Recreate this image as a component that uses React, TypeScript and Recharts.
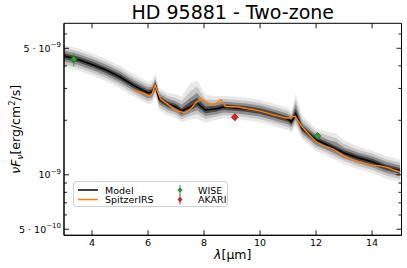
import React from "react";
import {
    Area,
    ComposedChart,
    ErrorBar,
    Line,
    ReferenceArea,
    Scatter,
    XAxis,
    YAxis,
} from "recharts";

// model grid (micron) and median model flux (erg/cm2/s)
const wavelengths = [3.0, 3.5, 4.0, 4.5, 5.0, 5.5, 6.0, 6.15, 6.26, 6.4, 6.7, 7.0, 7.2, 7.5, 7.75, 8.05, 8.4, 8.7, 9.0, 9.5, 10.0, 10.5, 11.0, 11.12, 11.27, 11.5, 12.0, 12.5, 12.7, 13.0, 13.5, 14.0, 14.5, 15.0];
const modelFlux = [4.53e-9, 4.34e-9, 4.07e-9, 3.79e-9, 3.47e-9, 3.11e-9, 2.83e-9, 2.87e-9, 3.13e-9, 2.62e-9, 2.46e-9, 2.37e-9, 2.25e-9, 2.37e-9, 2.49e-9, 2.28e-9, 2.31e-9, 2.37e-9, 2.35e-9, 2.31e-9, 2.25e-9, 2.14e-9, 2.03e-9, 1.96e-9, 2.17e-9, 1.81e-9, 1.56e-9, 1.44e-9, 1.39e-9, 1.32e-9, 1.24e-9, 1.18e-9, 1.10e-9, 1.05e-9];

// half widths of the shaded model bands, in dex (outer -> inner)
const outerUp = [0.062, 0.062, 0.062, 0.062, 0.062, 0.062, 0.062, 0.062, 0.062, 0.062, 0.062, 0.07, 0.08, 0.13, 0.125, 0.085, 0.07, 0.062, 0.062, 0.062, 0.062, 0.062, 0.062, 0.062, 0.11, 0.07, 0.062, 0.075, 0.085, 0.07, 0.062, 0.062, 0.062, 0.062];
const outerDown = [0.062, 0.062, 0.062, 0.062, 0.062, 0.062, 0.062, 0.062, 0.062, 0.062, 0.062, 0.062, 0.062, 0.07, 0.085, 0.07, 0.062, 0.062, 0.062, 0.062, 0.062, 0.062, 0.062, 0.062, 0.07, 0.062, 0.062, 0.062, 0.062, 0.062, 0.062, 0.062, 0.062, 0.062];
const midUp = [0.045, 0.045, 0.045, 0.045, 0.045, 0.045, 0.045, 0.045, 0.045, 0.045, 0.045, 0.05, 0.055, 0.085, 0.09, 0.06, 0.05, 0.045, 0.045, 0.045, 0.045, 0.045, 0.045, 0.045, 0.08, 0.05, 0.045, 0.055, 0.06, 0.05, 0.045, 0.045, 0.045, 0.045];
const midDown = [0.045, 0.045, 0.045, 0.045, 0.045, 0.045, 0.045, 0.045, 0.045, 0.045, 0.045, 0.045, 0.045, 0.05, 0.06, 0.05, 0.045, 0.045, 0.045, 0.045, 0.045, 0.045, 0.045, 0.045, 0.05, 0.045, 0.045, 0.045, 0.045, 0.045, 0.045, 0.045, 0.045, 0.045];
const innerUp = [0.03, 0.03, 0.03, 0.03, 0.03, 0.03, 0.03, 0.03, 0.03, 0.03, 0.03, 0.03, 0.035, 0.05, 0.055, 0.04, 0.03, 0.03, 0.03, 0.03, 0.03, 0.03, 0.03, 0.03, 0.055, 0.03, 0.03, 0.03, 0.04, 0.03, 0.03, 0.03, 0.03, 0.03];
const innerDown = [0.03, 0.03, 0.03, 0.03, 0.03, 0.03, 0.03, 0.03, 0.03, 0.03, 0.03, 0.03, 0.03, 0.033, 0.04, 0.033, 0.03, 0.03, 0.03, 0.03, 0.03, 0.03, 0.03, 0.03, 0.033, 0.03, 0.03, 0.03, 0.03, 0.03, 0.03, 0.03, 0.03, 0.03];
const coreUp = [0.016, 0.016, 0.016, 0.016, 0.016, 0.016, 0.016, 0.016, 0.016, 0.016, 0.016, 0.016, 0.016, 0.028, 0.03, 0.02, 0.016, 0.016, 0.016, 0.016, 0.016, 0.016, 0.016, 0.016, 0.03, 0.016, 0.016, 0.016, 0.016, 0.016, 0.016, 0.016, 0.016, 0.016];
const coreDown = [0.016, 0.016, 0.016, 0.016, 0.016, 0.016, 0.016, 0.016, 0.016, 0.016, 0.016, 0.016, 0.016, 0.018, 0.02, 0.018, 0.016, 0.016, 0.016, 0.016, 0.016, 0.016, 0.016, 0.016, 0.018, 0.016, 0.016, 0.016, 0.016, 0.016, 0.016, 0.016, 0.016, 0.016];

// Spitzer IRS spectrum
const spitzerWave = [5.5, 5.7, 5.9, 6.05, 6.15, 6.25, 6.32, 6.45, 6.7, 7.0, 7.27, 7.5, 7.7, 7.9, 8.25, 8.45, 8.6, 8.77, 9.2, 9.6, 10.0, 10.5, 10.9, 11.05, 11.25, 11.5, 11.8, 12.0, 12.3, 12.6, 13.0, 13.3, 13.7, 14.0, 14.3, 14.6, 14.8, 15.0];
const spitzerFlux = [2.92e-9, 2.87e-9, 2.8e-9, 2.73e-9, 2.8e-9, 3.13e-9, 2.94e-9, 2.62e-9, 2.46e-9, 2.28e-9, 2.2e-9, 2.29e-9, 2.49e-9, 2.64e-9, 2.43e-9, 2.49e-9, 2.6e-9, 2.38e-9, 2.37e-9, 2.31e-9, 2.25e-9, 2.14e-9, 2.06e-9, 2.06e-9, 2.11e-9, 1.84e-9, 1.64e-9, 1.52e-9, 1.44e-9, 1.39e-9, 1.27e-9, 1.21e-9, 1.16e-9, 1.13e-9, 1.12e-9, 1.09e-9, 1.06e-9, 1.035e-9];

// photometry
const wiseWave = [3.35, 12.05];
const wiseFlux = [4.35e-9, 1.64e-9];
const wiseErr = [0.38e-9, 0.04e-9];
const akariWave = [9.1];
const akariFlux = [2.08e-9];
const akariErr = [0.1e-9];

const xTicks = [4, 6, 8, 10, 12, 14];
const yTicks = [6e-9, 5e-9, 4e-9, 3e-9, 2e-9, 1e-9, 9e-10, 8e-10, 7e-10, 6e-10, 5e-10];
const yMajorLabels: Record<string, [string, string]> = {
    "5e-9": ["5 · 10", "−9"],
    "1e-9": ["10", "−9"],
    "5e-10": ["5 · 10", "−10"],
};

const W = 407;
const H = 268;
const LEFT = 64;
const RIGHT = 401.5;
const TOP = 23.3;
const BOTTOM = 235.3;
const FONT = "DejaVu Sans, sans-serif";

const band = (i: number, up: number[], dn: number[]) => [
    modelFlux[i] * Math.pow(10, -dn[i]),
    modelFlux[i] * Math.pow(10, up[i]),
];

const modelData = wavelengths.map((x, i) => ({
    x,
    model: modelFlux[i],
    b1: band(i, outerUp, outerDown),
    b2: band(i, midUp, midDown),
    b3: band(i, innerUp, innerDown),
    b4: band(i, coreUp, coreDown),
}));

const spitzerData = spitzerWave.map((x, i) => ({ x, flux: spitzerFlux[i] }));
const wiseData = wiseWave.map((x, i) => ({ x, flux: wiseFlux[i], err: wiseErr[i] }));
const akariData = akariWave.map((x, i) => ({ x, flux: akariFlux[i], err: akariErr[i] }));

const XTick = ({ x, payload }: any) => (
    <g>
        <line x1={x} x2={x} y1={BOTTOM} y2={BOTTOM - 5} stroke="#000" strokeWidth={0.9} />
        <line x1={x} x2={x} y1={TOP} y2={TOP + 5} stroke="#000" strokeWidth={0.9} />
        <text x={x} y={246} textAnchor="middle" fontSize={9.5} fontFamily={FONT} fill="#000">
            {payload.value}
        </text>
    </g>
);

const YTick = ({ y, payload }: any) => {
    const key = Number(payload.value).toExponential().replace("+", "").replace(".0", "");
    const lab = yMajorLabels[key];
    const len = lab ? 5 : 3;
    return (
        <g>
            <line x1={LEFT} x2={LEFT + len} y1={y} y2={y} stroke="#000" strokeWidth={0.9} />
            <line x1={RIGHT} x2={RIGHT - len} y1={y} y2={y} stroke="#000" strokeWidth={0.9} />
            {lab && (
                <text x={61} y={y + 3.5} textAnchor="end" fontSize={9.5} fontFamily={FONT} fill="#000">
                    {lab[0]}
                    <tspan dy={-4.5} fontSize={7}>{lab[1]}</tspan>
                </text>
            )}
        </g>
    );
};

const Diamond = (fill: string, edge: string) => (props: any) => {
    const { cx, cy } = props;
    const r = 3.4;
    return (
        <polygon
            points={`${cx},${cy - r} ${cx + r},${cy} ${cx},${cy + r} ${cx - r},${cy}`}
            fill={fill}
            stroke={edge}
            strokeWidth={0.8}
        />
    );
};

const LegendBox = () => (
    <div
        style={{
            position: "absolute",
            left: 73,
            top: 181,
            width: 155,
            height: 26,
            border: "1px solid #d0d0d0",
            borderRadius: 3,
            background: "rgba(255,255,255,0.8)",
            fontFamily: FONT,
            fontSize: 9.5,
            boxSizing: "border-box",
        }}
    >
        <svg width={155} height={26} style={{ position: "absolute", left: 0, top: 0 }}>
            <line x1={4} x2={24} y1={8} y2={8} stroke="#000" strokeWidth={1.5} />
            <line x1={4} x2={24} y1={17.5} y2={17.5} stroke="#ff7f0e" strokeWidth={1.5} />
            <text x={31} y={11.5} fontSize={9.5} fontFamily={FONT}>Model</text>
            <text x={31} y={21} fontSize={9.5} fontFamily={FONT}>SpitzerIRS</text>
            <line x1={106} x2={106} y1={3} y2={13} stroke="#2ca02c" strokeWidth={1} />
            <polygon points="106,5.8 108.2,8 106,10.2 103.8,8" fill="#2ca02c" stroke="#1d5e1d" strokeWidth={0.6} />
            <line x1={106} x2={106} y1={12.5} y2={22.5} stroke="#d62728" strokeWidth={1} />
            <polygon points="106,15.3 108.2,17.5 106,19.7 103.8,17.5" fill="#d62728" stroke="#7a1414" strokeWidth={0.6} />
            <text x={124} y={11.5} fontSize={9.5} fontFamily={FONT}>WISE</text>
            <text x={124} y={21} fontSize={9.5} fontFamily={FONT}>AKARI</text>
        </svg>
    </div>
);

export default function App() {
    return (
        <div style={{ position: "absolute", left: 0, top: 0, width: W, height: H, background: "#fff" }}>
            <ComposedChart
                width={W}
                height={H}
                data={modelData}
                margin={{ top: TOP, right: W - RIGHT, bottom: 0, left: 0 }}
            >
                <XAxis
                    dataKey="x"
                    type="number"
                    domain={[3, 15.05]}
                    ticks={xTicks}
                    interval={0}
                    height={H - BOTTOM}
                    tickLine={false}
                    axisLine={{ stroke: "#000", strokeWidth: 1 }}
                    tick={<XTick />}
                    allowDataOverflow
                />
                <YAxis
                    type="number"
                    scale="log"
                    domain={[4.63e-10, 6.87e-9]}
                    ticks={yTicks}
                    interval={0}
                    width={LEFT}
                    tickLine={false}
                    axisLine={{ stroke: "#000", strokeWidth: 1 }}
                    tick={<YTick />}
                    allowDataOverflow
                />
                <Area dataKey="b1" type="linear" stroke="none" fill="#e8e8e8" fillOpacity={1} isAnimationActive={false} activeDot={false} />
                <Area dataKey="b2" type="linear" stroke="none" fill="#c6c6c6" fillOpacity={1} isAnimationActive={false} activeDot={false} />
                <Area dataKey="b3" type="linear" stroke="none" fill="#8e8e8e" fillOpacity={1} isAnimationActive={false} activeDot={false} />
                <Area dataKey="b4" type="linear" stroke="none" fill="#4a4a4a" fillOpacity={1} isAnimationActive={false} activeDot={false} />
                <Line dataKey="model" type="linear" stroke="#000" strokeWidth={1.6} dot={false} activeDot={false} isAnimationActive={false} />
                <Line data={spitzerData} dataKey="flux" type="linear" stroke="#ff7f0e" strokeWidth={1.5} dot={false} activeDot={false} isAnimationActive={false} />
                <Scatter data={wiseData} dataKey="flux" shape={Diamond("#2ca02c", "#1d5e1d")} isAnimationActive={false}>
                    <ErrorBar dataKey="err" direction="y" width={0} stroke="#2ca02c" strokeWidth={1} />
                </Scatter>
                <Scatter data={akariData} dataKey="flux" shape={Diamond("#d62728", "#7a1414")} isAnimationActive={false}>
                    <ErrorBar dataKey="err" direction="y" width={0} stroke="#d62728" strokeWidth={1} />
                </Scatter>
                <ReferenceArea x1={3} x2={15.05} y1={4.63e-10} y2={6.87e-9} fill="none" stroke="#000" strokeWidth={1} ifOverflow="visible" />
            </ComposedChart>
            <svg width={W} height={H} style={{ position: "absolute", left: 0, top: 0, pointerEvents: "none" }}>
                <text x={(LEFT + RIGHT) / 2} y={18.5} textAnchor="middle" fontSize={19} fontFamily={FONT}>
                    HD 95881 - Two-zone
                </text>
                <text x={(LEFT + RIGHT) / 2} y={259} textAnchor="middle" fontSize={12.5} fontFamily={FONT}>
                    <tspan fontStyle="italic">λ</tspan>[μm]
                </text>
                <text
                    transform={`translate(20, ${(TOP + BOTTOM) / 2}) rotate(-90)`}
                    textAnchor="middle"
                    fontSize={12.5}
                    fontFamily={FONT}
                >
                    <tspan fontStyle="italic">νF</tspan>
                    <tspan fontStyle="italic" fontSize={9} dy={3}>ν</tspan>
                    <tspan dy={-3}>[erg/cm</tspan>
                    <tspan fontSize={8.5} dy={-5}>2</tspan>
                    <tspan dy={5}>/s]</tspan>
                </text>
            </svg>
            <LegendBox />
        </div>
    );
}
